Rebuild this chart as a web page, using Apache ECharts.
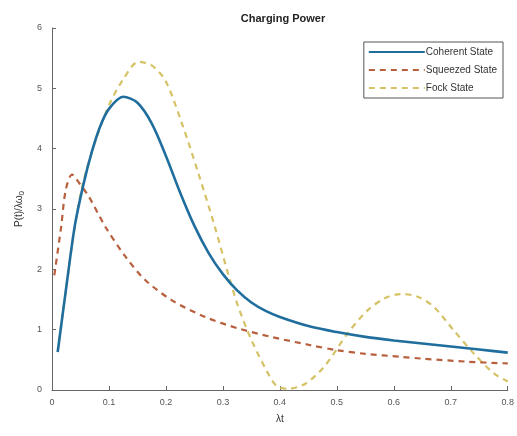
<!DOCTYPE html>
<html>
<head>
<meta charset="utf-8">
<script src="https://cdn.jsdelivr.net/npm/echarts@6/dist/echarts.min.js"></script>
<style>
  html, body { margin: 0; padding: 0; background: #fff; }
  #chart { width: 517px; height: 436px; }
</style>
</head>
<body>
<div id="chart"></div>
<script>
// values (λt, P(t)/λω0)
const coherentT = [0.01, 0.025, 0.04, 0.055, 0.07, 0.085, 0.1, 0.125, 0.15, 0.175, 0.2, 0.225, 0.25, 0.275, 0.3, 0.325, 0.35, 0.375, 0.4, 0.45, 0.5, 0.55, 0.6, 0.65, 0.7, 0.75, 0.8];
const coherentP = [0.63, 1.7, 2.72, 3.4, 3.95, 4.38, 4.66, 4.86, 4.76, 4.42, 3.88, 3.27, 2.72, 2.27, 1.92, 1.65, 1.45, 1.31, 1.21, 1.06, 0.96, 0.88, 0.82, 0.77, 0.72, 0.67, 0.62];

const squeezedT = [0.004, 0.016, 0.024, 0.035, 0.05, 0.065, 0.094, 0.129, 0.164, 0.21, 0.269, 0.327, 0.385, 0.45, 0.5, 0.55, 0.612, 0.65, 0.728, 0.8];
const squeezedP = [1.9, 2.7, 3.31, 3.57, 3.4, 3.2, 2.7, 2.21, 1.82, 1.49, 1.21, 1.02, 0.88, 0.75, 0.66, 0.6, 0.55, 0.52, 0.47, 0.44];

const fockT = [0.01, 0.025, 0.04, 0.055, 0.077, 0.1, 0.125, 0.152, 0.175, 0.199, 0.228, 0.257, 0.286, 0.309, 0.327, 0.35, 0.379, 0.394, 0.414, 0.444, 0.478, 0.519, 0.554, 0.584, 0.612, 0.641, 0.67, 0.705, 0.74, 0.775, 0.8];
const fockP = [0.63, 1.7, 2.7, 3.45, 4.15, 4.72, 5.15, 5.44, 5.38, 5.13, 4.42, 3.59, 2.7, 1.93, 1.38, 0.83, 0.28, 0.07, 0.02, 0.1, 0.39, 0.94, 1.32, 1.52, 1.59, 1.55, 1.38, 0.99, 0.61, 0.28, 0.14];

const xTicks = [0, 0.1, 0.2, 0.3, 0.4, 0.5, 0.6, 0.7, 0.8];
const yTicks = [0, 1, 2, 3, 4, 5, 6];

const seriesNames = ["Coherent State", "Squeezed State", "Fock State"];

const chart = echarts.init(document.getElementById("chart"));

const pairs = (t, p) => t.map((x, i) => [x, p[i]]);
const font = "Liberation Sans, Arial, sans-serif";

const options = {
  animation: false,
  title: {
    text: "Charging Power",
    left: 278,
    top: 8,
    textAlign: "center",
    textStyle: { fontFamily: font, fontSize: 11, fontWeight: "bold", color: "#222" },
  },
  legend: {
    orient: "vertical",
    right: 14,
    top: 42,
    padding: [5, 6, 5, 4],
    itemGap: 8,
    itemWidth: 56,
    itemHeight: 10,
    borderColor: "#555",
    borderWidth: 1,
    itemStyle: { opacity: 0 },
    data: seriesNames,
    textStyle: { fontFamily: font, fontSize: 10, color: "#333", padding: [0, 0, 0, -4] },
  },
  grid: { left: 52, right: 7, top: 28, bottom: 46 },
  xAxis: {
    type: "value",
    min: xTicks[0],
    max: xTicks[xTicks.length - 1],
    interval: 0.1,
    name: "λt",
    nameLocation: "middle",
    nameGap: 24,
    nameTextStyle: { fontFamily: font, fontSize: 10, color: "#333" },
    axisLine: { lineStyle: { color: "#666", width: 1 } },
    axisTick: { inside: true, length: 4, lineStyle: { color: "#666" } },
    axisLabel: { fontFamily: font, fontSize: 9, color: "#555", margin: 8 },
    splitLine: { show: false },
  },
  yAxis: {
    type: "value",
    min: yTicks[0],
    max: yTicks[yTicks.length - 1],
    interval: 1,
    name: "P(t)/λω{sub|0}",
    nameLocation: "middle",
    nameGap: 26,
    nameTextStyle: {
      fontFamily: font, fontSize: 10, color: "#333",
      rich: { sub: { fontFamily: font, fontSize: 8, color: "#333", verticalAlign: "bottom", padding: [6, 0, 0, 0] } },
    },
    axisLine: { show: true, lineStyle: { color: "#666", width: 1 } },
    axisTick: { show: true, inside: true, length: 4, lineStyle: { color: "#666" } },
    axisLabel: { fontFamily: font, fontSize: 9, color: "#555", margin: 10 },
    splitLine: { show: false },
  },
  series: [
    {
      name: seriesNames[0],
      type: "line",
      data: pairs(coherentT, coherentP),
      smooth: 0.3,
      symbol: "none",
      lineStyle: { color: "#1f6e9e", width: 2.6 },
      itemStyle: { color: "#1f6e9e" },
      z: 3,
    },
    {
      name: seriesNames[1],
      type: "line",
      data: pairs(squeezedT, squeezedP),
      smooth: 0.3,
      symbol: "none",
      lineStyle: { color: "#b8603e", width: 2.2, type: [6, 5] },
      itemStyle: { color: "#b8603e" },
      z: 2,
    },
    {
      name: seriesNames[2],
      type: "line",
      data: pairs(fockT, fockP),
      smooth: 0.3,
      symbol: "none",
      lineStyle: { color: "#d6c266", width: 2.2, type: [6, 5] },
      itemStyle: { color: "#d6c266" },
      z: 1,
    },
  ],
};

chart.setOption(options);
</script>
</body>
</html>
